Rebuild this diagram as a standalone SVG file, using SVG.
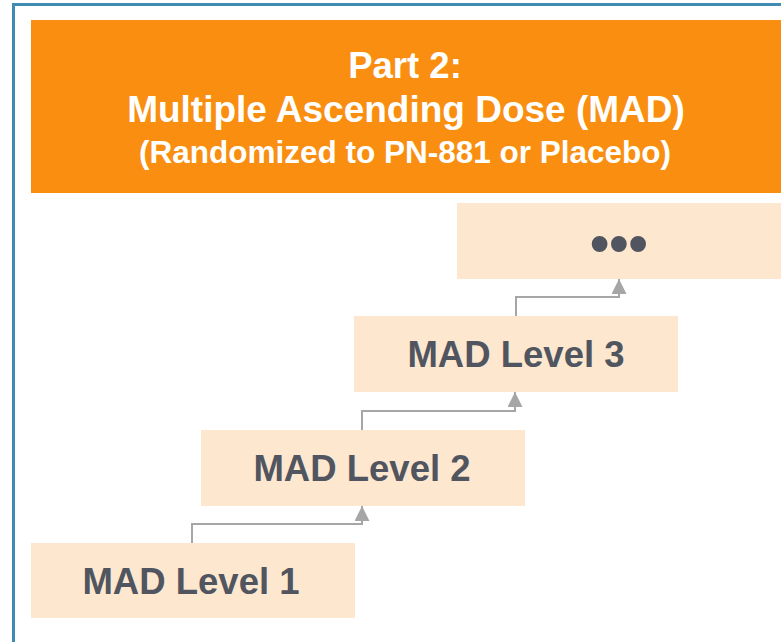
<svg xmlns="http://www.w3.org/2000/svg" width="781" height="642" viewBox="0 0 781 642">
  <style>
    .frame { fill: none; stroke: #3f8bb3; stroke-width: 3; }
    .banner { fill: #f98e10; }
    .banner-text { fill: #ffffff; font-family: "Liberation Sans", Arial, sans-serif; font-weight: bold; text-anchor: middle; }
    .step { fill: #fde7cf; }
    .step-text { fill: #50555f; font-family: "Liberation Sans", Arial, sans-serif; font-weight: bold; font-size: 36.5px; text-anchor: middle; }
    .link { fill: none; stroke: #a6a6a6; stroke-width: 2; }
  </style>
  <defs>
    <marker id="arrow" viewBox="0 0 10 10" refX="10" refY="5" markerWidth="15" markerHeight="15" markerUnits="userSpaceOnUse" orient="auto">
      <path d="M0,0 L10,5 L0,10 z" fill="#a6a6a6"/>
    </marker>
  </defs>
  <rect width="781" height="642" fill="#ffffff"/>

  <!-- outer frame -->
  <path class="frame" d="M13.5,642 V4.5 H781"/>

  <!-- title banner -->
  <g id="banner">
    <rect class="banner" x="31" y="20" width="750" height="173"/>
    <text class="banner-text" x="405" y="78" font-size="36.5">Part 2:</text>
    <text class="banner-text" x="406" y="122" font-size="37">Multiple Ascending Dose (MAD)</text>
    <text class="banner-text" x="405" y="163" font-size="31.5">(Randomized to PN-881 or Placebo)</text>
  </g>

  <!-- connectors -->
  <g id="connectors">
    <path class="link" d="M192,543 V524 H362 V506" marker-end="url(#arrow)"/>
    <path class="link" d="M362,430 V411 H515 V392" marker-end="url(#arrow)"/>
    <path class="link" d="M516,316 V297 H619 V279" marker-end="url(#arrow)"/>
  </g>

  <!-- dose levels -->
  <g id="level1">
    <rect class="step" x="31" y="543" width="324" height="75"/>
    <text class="step-text" x="191" y="594">MAD Level 1</text>
  </g>
  <g id="level2">
    <rect class="step" x="201" y="430" width="324" height="76"/>
    <text class="step-text" x="362" y="481">MAD Level 2</text>
  </g>
  <g id="level3">
    <rect class="step" x="354" y="316" width="324" height="76"/>
    <text class="step-text" x="516" y="367">MAD Level 3</text>
  </g>
  <g id="more">
    <rect class="step" x="457" y="203" width="324" height="76"/>
    <text class="step-text" x="619" y="262" style="font-size:55px">•••</text>
  </g>
</svg>
